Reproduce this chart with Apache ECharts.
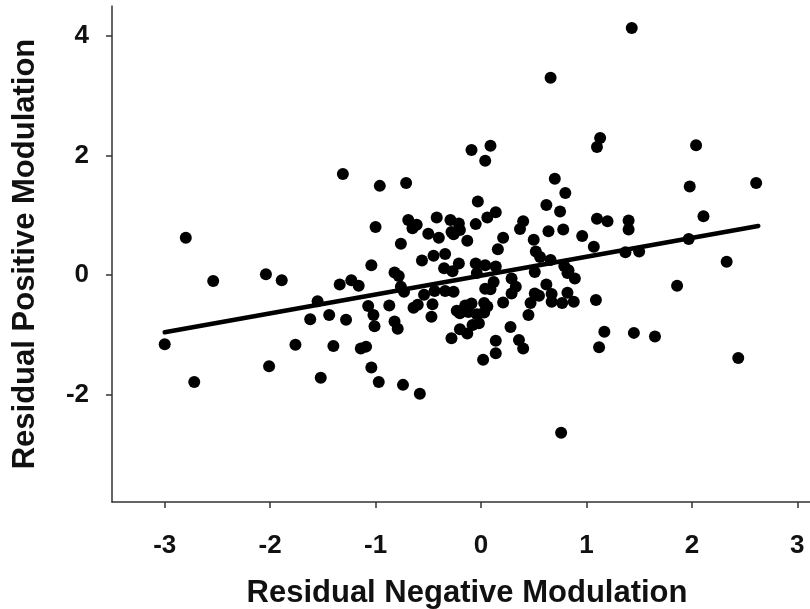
<!DOCTYPE html>
<html>
<head>
<meta charset="utf-8">
<script src="https://cdn.jsdelivr.net/npm/echarts@6/dist/echarts.min.js"></script>
<style>
  html, body { margin: 0; padding: 0; background: #fff; }
  #chart { width: 810px; height: 609px; }
</style>
</head>
<body>
<div id="chart"></div>
<script>
// residual negative modulation (x) / residual positive modulation (y)
const negMod = [
  -3.00, -2.80, -2.72, -2.54, -2.04, -1.89, -2.01, -1.76, -1.52, -1.62,
  -1.55, -1.44, -1.40, -1.28, -1.34, -1.23, -1.16, -1.04, -1.14, -1.09,
  -1.04, -0.97, -0.74, -0.58, -1.07, -1.02, -1.01, -0.87, -0.82, -0.79,
  -0.82, -0.78, -0.76, -0.73, -0.76, -0.56, -0.45, -0.34, -0.35, -0.27,
  -0.21, -0.54, -0.64, -0.60, -0.46, -0.47, -0.44, -0.34, -0.26, -0.23,
  -0.15, -0.09, 0.03, 0.06, -0.20, -0.12, -0.04, 0.03, -0.20, -0.13,
  -0.28, -0.02, -0.08, 0.02, 0.14, 0.14, 0.36, 0.40, 0.28, 0.45,
  0.21, 0.47, 0.51, 0.55, 0.67, 0.67, 0.77, 0.88, 0.82, 1.09,
  0.62, 0.51, 0.82, 0.89, 0.29, 0.33, 0.29, 0.12, 0.04, 0.09,
  -0.04, -0.05, 0.04, 0.14, 0.79, 0.83, 0.66, 0.52, 0.56, 0.16,
  0.21, 0.50, -0.13, -0.40, -0.50, -0.28, -0.20, -0.26, -0.29, -0.21,
  -0.42, -0.69, -0.61, -0.65, -0.05, 0.06, 0.14, -0.03, 0.40, 0.37,
  0.64, 0.78, 0.62, 0.75, 0.80, 0.70, 0.66, 1.43, 1.13, 1.10,
  2.04, -0.09, 0.09, 0.04, 1.98, 2.61, 2.11, 1.10, 1.20, 1.40,
  1.40, 0.96, 1.07, 1.97, 1.37, 1.50, 2.33, 1.86, 2.44, 0.76,
  1.17, 1.45, 1.12, 1.65, -1.31, -0.96, -0.71, -1.00
];
const posMod = [
  -1.16, 0.62, -1.79, -0.10, 0.01, -0.09, -1.53, -1.17, -1.72, -0.74,
  -0.44, -0.67, -1.19, -0.75, -0.16, -0.09, -0.18, 0.16, -1.23, -1.20,
  -1.55, -1.79, -1.84, -1.99, -0.52, -0.67, -0.86, -0.51, -0.78, -0.90,
  0.04, -0.02, -0.20, -0.28, 0.52, 0.24, 0.32, 0.35, 0.11, 0.06,
  0.19, -0.33, -0.55, -0.50, -0.49, -0.70, -0.27, -0.27, -0.28, -0.60,
  -0.51, -0.48, -0.47, -0.53, -0.64, -0.62, -0.66, -0.63, -0.91, -0.98,
  -1.06, -0.81, -0.84, -1.42, -1.10, -1.31, -1.09, -1.23, -0.87, -0.67,
  -0.46, -0.47, -0.31, -0.35, -0.32, -0.45, -0.47, -0.45, -0.30, -0.42,
  -0.16, 0.05, 0.03, -0.06, -0.06, -0.20, -0.31, -0.12, -0.23, -0.24,
  0.03, 0.19, 0.16, 0.14, 0.15, 0.08, 0.25, 0.39, 0.30, 0.43,
  0.62, 0.59, 0.57, 0.62, 0.69, 0.72, 0.75, 0.68, 0.92, 0.86,
  0.96, 0.92, 0.84, 0.78, 0.85, 0.96, 1.05, 1.23, 0.90, 0.77,
  0.73, 0.76, 1.17, 1.06, 1.37, 1.61, 3.30, 4.13, 2.29, 2.14,
  2.17, 2.09, 2.16, 1.91, 1.48, 1.54, 0.98, 0.94, 0.90, 0.91,
  0.76, 0.65, 0.47, 0.60, 0.38, 0.39, 0.22, -0.18, -1.39, -2.64,
  -0.95, -0.97, -1.21, -1.03, 1.69, 1.49, 1.54, 0.80
];
// fitted regression line end points
const fitX = [-3.0, 2.63];
const fitY = [-0.96, 0.82];
const xTicks = [-3, -2, -1, 0, 1, 2, 3];
const yTicks = [-2, 0, 2, 4];

const fontFamily = "'Liberation Sans', Arial, sans-serif";
const axisColor = '#333';

const chart = echarts.init(document.getElementById('chart'));

const points = negMod.map((x, i) => [x, posMod[i]]);
const fitLine = fitX.map((x, i) => [x, fitY[i]]);

chart.setOption({
  animation: false,
  backgroundColor: '#fff',
  grid: {
    left: 112,
    top: 6,
    width: 738,
    height: 496,
    outerBoundsMode: 'none'
  },
  xAxis: {
    type: 'value',
    min: -3.5,
    max: 3.5,
    name: 'Residual Negative Modulation',
    nameLocation: 'middle',
    nameGap: 76,
    nameTextStyle: {
      fontFamily,
      fontWeight: 'bold',
      fontSize: 31,
      color: '#111',
      padding: [0, 28, 0, 0]
    },
    splitLine: { show: false },
    axisLine: { onZero: false, lineStyle: { color: axisColor, width: 1.5 } },
    axisTick: {
      customValues: xTicks,
      length: 6,
      lineStyle: { color: axisColor, width: 1.5 }
    },
    axisLabel: {
      customValues: xTicks,
      margin: 31,
      fontFamily,
      fontWeight: 'bold',
      fontSize: 26,
      color: '#111'
    }
  },
  yAxis: {
    type: 'value',
    min: -3.8,
    max: 4.5,
    name: 'Residual Positive Modulation',
    nameLocation: 'middle',
    nameRotate: 90,
    nameGap: 71,
    nameTextStyle: {
      fontFamily,
      fontWeight: 'bold',
      fontSize: 31,
      color: '#111'
    },
    splitLine: { show: false },
    axisLine: { onZero: false, lineStyle: { color: axisColor, width: 1.5 } },
    axisTick: {
      customValues: yTicks,
      length: 6,
      lineStyle: { color: axisColor, width: 1.5 }
    },
    axisLabel: {
      customValues: yTicks,
      margin: 23,
      fontFamily,
      fontWeight: 'bold',
      fontSize: 26,
      color: '#111'
    }
  },
  series: [
    {
      type: 'scatter',
      data: points,
      symbol: 'circle',
      symbolSize: 12,
      itemStyle: { color: '#000', opacity: 1 }
    },
    {
      type: 'line',
      data: fitLine,
      showSymbol: false,
      symbol: 'none',
      lineStyle: { color: '#000', width: 4.5, cap: 'round' },
      z: 3
    }
  ]
});
</script>
</body>
</html>
